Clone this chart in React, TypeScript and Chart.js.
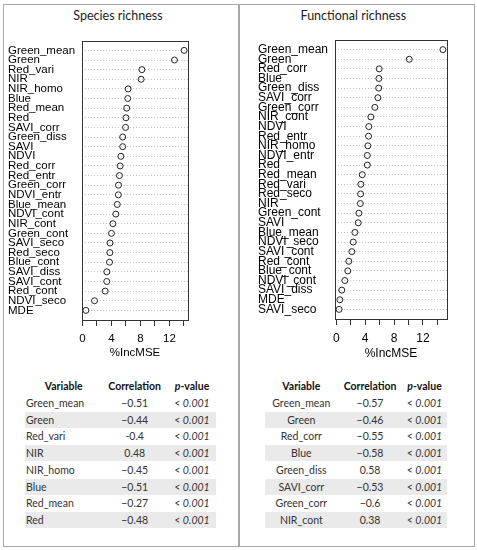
import React, { useEffect, useRef } from "react";
import { Chart, registerables } from "chart.js";
Chart.register(...registerables);

// ---- Data ----
const speciesNames = ["Green_mean", "Green", "Red_vari", "NIR", "NIR_homo", "Blue", "Red_mean", "Red", "SAVI_corr", "Green_diss", "SAVI", "NDVI", "Red_corr", "Red_entr", "Green_corr", "NDVI_entr", "Blue_mean", "NDVI_cont", "NIR_cont", "Green_cont", "SAVI_seco", "Red_seco", "Blue_cont", "SAVI_diss", "SAVI_cont", "Red_cont", "NDVI_seco", "MDE"];
const speciesIncMSE = [14.03, 12.7, 8.2, 8.1, 6.3, 6.25, 6.1, 6.0, 5.95, 5.55, 5.55, 5.3, 5.2, 5.1, 4.97, 4.95, 4.8, 4.6, 4.2, 4.0, 3.8, 3.78, 3.73, 3.36, 3.35, 3.13, 1.66, 0.47];

const functionalNames = ["Green_mean", "Green", "Red_corr", "Blue", "Green_diss", "SAVI_corr", "Green_corr", "NIR_cont", "NDVI", "Red_entr", "NIR_homo", "NDVI_entr", "Red", "Red_mean", "Red_vari", "Red_seco", "NIR", "Green_cont", "SAVI", "Blue_mean", "NDVI_seco", "SAVI_cont", "Red_cont", "Blue_cont", "NDVI_cont", "SAVI_diss", "MDE", "SAVI_seco"];
const functionalIncMSE = [14.75, 10.1, 5.94, 5.9, 5.87, 5.76, 5.34, 4.79, 4.5, 4.47, 4.38, 4.3, 4.3, 3.6, 3.4, 3.37, 3.33, 3.13, 3.04, 2.58, 2.35, 2.16, 1.74, 1.6, 1.19, 0.77, 0.5, 0.4];

const xTicks = [0, 2, 4, 6, 8, 10, 12, 14];
const xLabelledTicks = [0, 4, 8, 12];
const xTitle = "%IncMSE";

const tableHeaders = ["Variable", "Correlation", "p-value"];
const speciesTableVars = ["Green_mean", "Green", "Red_vari", "NIR", "NIR_homo", "Blue", "Red_mean", "Red"];
const speciesTableCorr = ["\u22120.51", "\u22120.44", "-0.4", "0.48", "\u22120.45", "\u22120.51", "\u22120.27", "\u22120.48"];
const speciesTableP = ["< 0.001", "< 0.001", "< 0.001", "< 0.001", "< 0.001", "< 0.001", "< 0.001", "< 0.001"];

const functionalTableVars = ["Green_mean", "Green", "Red_corr", "Blue", "Green_diss", "SAVI_corr", "Green_corr", "NIR_cont"];
const functionalTableCorr = ["\u22120.57", "\u22120.46", "\u22120.55", "\u22120.58", "0.58", "\u22120.53", "\u22120.6", "0.38"];
const functionalTableP = ["< 0.001", "< 0.001", "< 0.001", "< 0.001", "< 0.001", "< 0.001", "< 0.001", "< 0.001"];

// ---- Components ----
type DotProps = {
  names: string[];
  values: number[];
  xMin: number;
  xMax: number;
  left: number;
  top: number;
  width: number;
  height: number;
  pad: { left: number; right: number; top: number; bottom: number };
  yAxisWidth: number;
  xAxisHeight: number;
  labelPad: number;
  fontSize: number;
};

function DotChart(p: DotProps) {
  const ref = useRef<HTMLCanvasElement>(null);
  useEffect(() => {
    const boxPlugin = {
      id: "rbox",
      afterDatasetsDraw(chart: any) {
        const { ctx, chartArea: a } = chart;
        ctx.save();
        ctx.strokeStyle = "#333";
        ctx.lineWidth = 1;
        ctx.strokeRect(Math.round(a.left) + 0.5, Math.round(a.top) + 0.5, Math.round(a.right - a.left), Math.round(a.bottom - a.top));
        ctx.restore();
      },
    };
    const font = { family: "'Liberation Sans', Arial, sans-serif", size: p.fontSize, lineHeight: 1.2 };
    const chart = new Chart(ref.current as HTMLCanvasElement, {
      type: "scatter",
      data: {
        datasets: [
          {
            data: p.values.map((v, i) => ({ x: v, y: i + 1 })),
            pointRadius: 3,
            pointBorderWidth: 1,
            borderColor: "#222",
            backgroundColor: "rgba(0,0,0,0)",
            pointStyle: "circle",
          },
        ],
      },
      options: {
        animation: false,
        responsive: false,
        maintainAspectRatio: false,
        layout: { padding: p.pad },
        plugins: { legend: { display: false }, tooltip: { enabled: false } },
        scales: {
          x: {
            type: "linear",
            min: p.xMin,
            max: p.xMax,
            afterBuildTicks: (s: any) => {
              s.ticks = xTicks.map((v) => ({ value: v }));
            },
            afterFit: (s: any) => {
              s.height = p.xAxisHeight;
            },
            ticks: {
              autoSkip: false,
              maxRotation: 0,
              padding: 6,
              color: "#000",
              font,
              callback: (v: any) => (xLabelledTicks.includes(v) ? String(v) : ""),
            },
            grid: { drawOnChartArea: false, drawTicks: true, tickLength: 6, tickColor: "#333", color: "#333" },
            border: { display: true, color: "#333" },
            title: { display: true, text: xTitle, color: "#000", font, padding: { top: 0, bottom: 0 } },
          },
          y: {
            type: "linear",
            reverse: true,
            min: 0,
            max: p.names.length + 1,
            afterBuildTicks: (s: any) => {
              s.ticks = p.names.map((_, i) => ({ value: i + 1 }));
            },
            afterFit: (s: any) => {
              s.width = p.yAxisWidth;
            },
            ticks: {
              autoSkip: false,
              crossAlign: "far",
              padding: p.labelPad,
              color: "#000",
              font: { family: "'Liberation Sans', Arial, sans-serif", size: p.fontSize, lineHeight: 1 },
              callback: (v: any) => p.names[v - 1] ?? "",
            },
            grid: { drawTicks: false, color: "#c4c4c4", lineWidth: 1 },
            border: { display: false, dash: [1, 2] },
          },
        },
      } as any,
      plugins: [boxPlugin],
    });
    return () => chart.destroy();
  }, []);
  return (
    <canvas
      ref={ref}
      width={p.width}
      height={p.height}
      style={{ position: "absolute", left: p.left, top: p.top, width: p.width, height: p.height }}
    />
  );
}

type TableProps = {
  vars: string[];
  corr: string[];
  pvals: string[];
  shadeLeft: number;
  shadeRight: number;
  col1: { x: number; align: "left" | "center" };
  col1Header: number;
  col2: number;
  col3: number;
};

const tableFont = "Lato, 'Open Sans', sans-serif";
const headerY = 385.7;
const rowY0 = 403;
const rowStep = 16.7;

function Cell({ cx, cy, text, align = "center", bold = false, italic = false, color = "#333" }: any) {
  const w = 120;
  const left = align === "left" ? cx : cx - w / 2;
  return (
    <div
      style={{
        position: "absolute",
        left,
        top: cy - 8,
        width: w,
        height: 16,
        lineHeight: "16px",
        textAlign: align,
        fontFamily: tableFont,
        fontSize: 10.5,
        fontWeight: bold ? 700 : 400,
        fontStyle: italic ? "italic" : "normal",
        color,
        whiteSpace: "nowrap",
      }}
    >
      {text}
    </div>
  );
}

function CorrTable(t: TableProps) {
  return (
    <>
      {t.vars.map((_, i) =>
        i % 2 === 1 ? (
          <div
            key={"s" + i}
            style={{
              position: "absolute",
              left: t.shadeLeft,
              width: t.shadeRight - t.shadeLeft,
              top: rowY0 + i * rowStep - 8,
              height: 16,
              background: "#eaeaea",
            }}
          />
        ) : null
      )}
      <Cell cx={t.col1Header} cy={headerY} text={tableHeaders[0]} bold color="#111" />
      <Cell cx={t.col2} cy={headerY} text={tableHeaders[1]} bold color="#111" />
      <Cell
        cx={t.col3}
        cy={headerY}
        bold
        color="#111"
        text={
          <>
            <i>{tableHeaders[2].slice(0, 1)}</i>
            {tableHeaders[2].slice(1)}
          </>
        }
      />
      {t.vars.map((v, i) => (
        <React.Fragment key={i}>
          <Cell cx={t.col1.x} cy={rowY0 + i * rowStep} text={v} align={t.col1.align} />
          <Cell cx={t.col2} cy={rowY0 + i * rowStep} text={t.corr[i]} />
          <Cell cx={t.col3} cy={rowY0 + i * rowStep} text={t.pvals[i]} italic />
        </React.Fragment>
      ))}
    </>
  );
}

function Title({ cx, text }: { cx: number; text: string }) {
  return (
    <div
      style={{
        position: "absolute",
        left: cx - 100,
        width: 200,
        top: 7,
        height: 18,
        lineHeight: "18px",
        textAlign: "center",
        fontFamily: tableFont,
        fontSize: 12.5,
        color: "#222",
      }}
    >
      {text}
    </div>
  );
}

export default function App() {
  return (
    <div style={{ position: "absolute", left: 0, top: 0, width: 477, height: 550, background: "#fff", overflow: "hidden" }}>
      <div style={{ position: "absolute", left: 3, top: 4, width: 236, height: 543, border: "1px solid #a8a8a8", boxSizing: "border-box" }} />
      <div style={{ position: "absolute", left: 239, top: 4, width: 236, height: 543, border: "1px solid #a8a8a8", boxSizing: "border-box" }} />
      <Title cx={118} text="Species richness" />
      <Title cx={353.3} text="Functional richness" />
      <DotChart
        names={speciesNames}
        values={speciesIncMSE}
        xMin={-0.07}
        xMax={14.57}
        left={4}
        top={28}
        width={232}
        height={340}
        pad={{ left: 4, right: 48, top: 9, bottom: 8 }}
        yAxisWidth={74}
        xAxisHeight={40}
        labelPad={7}
        fontSize={11.5}
      />
      <DotChart
        names={functionalNames}
        values={functionalIncMSE}
        xMin={-0.17}
        xMax={15.32}
        left={240}
        top={28}
        width={232}
        height={340}
        pad={{ left: 18, right: 25, top: 8, bottom: 7.5 }}
        yAxisWidth={77}
        xAxisHeight={41.5}
        labelPad={6}
        fontSize={12}
      />
      <CorrTable
        vars={speciesTableVars}
        corr={speciesTableCorr}
        pvals={speciesTableP}
        shadeLeft={25}
        shadeRight={216}
        col1={{ x: 26, align: "left" }}
        col1Header={63.7}
        col2={134.7}
        col3={192}
      />
      <CorrTable
        vars={functionalTableVars}
        corr={functionalTableCorr}
        pvals={functionalTableP}
        shadeLeft={264.7}
        shadeRight={447.3}
        col1={{ x: 301.3, align: "center" }}
        col1Header={301.3}
        col2={370}
        col3={424.5}
      />
    </div>
  );
}
